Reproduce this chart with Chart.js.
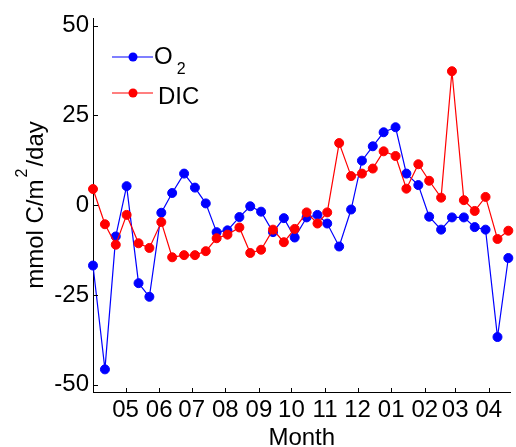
<!DOCTYPE html>
<html>
<head>
<meta charset="utf-8">
<script src="https://cdn.jsdelivr.net/npm/chart.js@4.4.1/dist/chart.umd.min.js"></script>
<style>
  html, body { margin: 0; padding: 0; background: #fff; overflow: hidden; }
  #wrap { width: 516px; height: 447px; position: relative; }
</style>
</head>
<body>
<div id="wrap"><canvas id="c" width="516" height="447"></canvas></div>
<script>
// Sample dates, in days counted from 1 April of the first year
const sampleDays = [0, 11, 21, 31, 42, 52, 63, 73, 84, 94, 104, 114, 124, 135, 145, 155, 166, 176, 186,
                    197, 207, 216, 227, 238, 248, 258, 268, 279, 289, 300, 310, 321, 331, 342, 352, 362, 373, 383];

// Air-sea fluxes, mmol C/m^2/day
const o2Flux = [-16.8, -45.7, -8.7, 5.3, -21.7, -25.5, -2.1, 3.4, 8.8, 4.9, 0.5, -7.5, -7.0, -3.3, -0.3, -1.8, -7.5, -3.6, -9.0,
                -3.4, -2.7, -5.1, -11.5, -1.2, 12.4, 16.4, 20.3, 21.7, 8.8, 5.6, -3.2, -6.8, -3.4, -3.4, -6.1, -6.8, -36.7, -14.7];
const dicFlux = [4.5, -5.3, -11.0, -2.7, -10.6, -11.9, -4.7, -14.5, -13.9, -13.9, -12.8, -9.2, -8.2, -6.2, -13.3, -12.4, -6.8, -10.3, -6.6,
                 -2.0, -5.1, -2.0, 17.3, 8.1, 8.8, 10.2, 15.0, 13.7, 4.6, 11.4, 6.8, 2.1, 37.3, 1.4, -1.6, 2.3, -9.4, -7.1];

// Month ticks (first day of each month) and their labels
const monthStarts = [30, 61, 91, 122, 153, 183, 214, 244, 275, 306, 334, 365];
const monthLabels = ['05', '06', '07', '08', '09', '10', '11', '12', '01', '02', '03', '04'];
const yTickValues = [-50, -25, 0, 25, 50];

// Legend names: main text plus subscript
const seriesNames = ['O', 'DIC'];
const seriesSubs = ['2', ''];

const FONT = '"Liberation Sans", Arial, Helvetica, sans-serif';
const BLUE = '#0000ff';
const RED = '#ff0000';

function toPoints(values) {
  return values.map((v, i) => ({ x: sampleDays[i], y: v }));
}

function seriesStyle(color, order) {
  return {
    borderColor: color,
    backgroundColor: color,
    pointBackgroundColor: color,
    pointBorderColor: color,
    pointRadius: 4.5,
    pointBorderWidth: 1,
    borderWidth: 1.2,
    tension: 0,
    clip: false,
    order: order
  };
}

// Inward tick marks, legend and axis titles
const decorations = {
  id: 'decorations',
  afterDraw(chart) {
    const ctx = chart.ctx;
    const area = chart.chartArea;
    const xs = chart.scales.x;
    const ys = chart.scales.y;
    ctx.save();
    ctx.strokeStyle = '#000';
    ctx.lineWidth = 1;
    ctx.beginPath();
    xs.ticks.forEach(t => {
      const px = Math.round(xs.getPixelForValue(t.value)) + 0.5;
      ctx.moveTo(px, area.bottom);
      ctx.lineTo(px, area.bottom - 4);
    });
    ys.ticks.forEach(t => {
      const py = Math.round(ys.getPixelForValue(t.value)) + 0.5;
      ctx.moveTo(area.left, py);
      ctx.lineTo(area.left + 5, py);
    });
    ctx.stroke();

    // Legend
    const rows = [
      { y: 57, tx: 154, base: 63.5 },
      { y: 93, tx: 158, base: 104 }
    ];
    chart.data.datasets.forEach((ds, i) => {
      const r = rows[i];
      ctx.strokeStyle = ds.borderColor;
      ctx.lineWidth = 1.2;
      ctx.beginPath();
      ctx.moveTo(112, r.y);
      ctx.lineTo(153, r.y);
      ctx.stroke();
      ctx.fillStyle = ds.borderColor;
      ctx.beginPath();
      ctx.arc(133, r.y, 4.5, 0, Math.PI * 2);
      ctx.fill();
      ctx.fillStyle = '#000';
      ctx.textAlign = 'left';
      ctx.textBaseline = 'alphabetic';
      ctx.font = '24px ' + FONT;
      ctx.fillText(seriesNames[i], r.tx, r.base);
      if (seriesSubs[i]) {
        const w = ctx.measureText(seriesNames[i]).width;
        ctx.font = '16px ' + FONT;
        ctx.fillText(seriesSubs[i], r.tx + w + 4, r.base + 10);
      }
    });

    // X title
    ctx.fillStyle = '#000';
    ctx.font = '24px ' + FONT;
    ctx.textAlign = 'center';
    ctx.textBaseline = 'alphabetic';
    ctx.fillText('Month', (area.left + area.right) / 2, 445);

    // Y title, rotated, with superscript
    const partA = 'mmol C/m';
    const partSup = '2';
    const partB = '/day';
    ctx.font = '24px ' + FONT;
    const wA = ctx.measureText(partA).width;
    const wB = ctx.measureText(partB).width;
    ctx.font = '16px ' + FONT;
    const wS = ctx.measureText(partSup).width;
    const gap = 2;
    const total = wA + gap + wS + gap + wB;
    const centerY = 205;
    ctx.translate(43, centerY);
    ctx.rotate(-Math.PI / 2);
    ctx.textAlign = 'left';
    let pos = -total / 2;
    ctx.font = '24px ' + FONT;
    ctx.fillText(partA, pos, 0);
    pos += wA + gap;
    ctx.font = '16px ' + FONT;
    ctx.fillText(partSup, pos, -16);
    pos += wS + gap;
    ctx.font = '24px ' + FONT;
    ctx.fillText(partB, pos, 0);
    ctx.restore();
  }
};

Chart.defaults.font.family = FONT;
Chart.defaults.color = '#000';

new Chart(document.getElementById('c'), {
  type: 'line',
  data: {
    datasets: [
      Object.assign({ label: 'O2', data: toPoints(o2Flux) }, seriesStyle(BLUE, 1)),
      Object.assign({ label: 'DIC', data: toPoints(dicFlux) }, seriesStyle(RED, 0))
    ]
  },
  options: {
    responsive: false,
    devicePixelRatio: 1,
    animation: false,
    layout: { padding: { top: 15, right: 0, bottom: 0, left: 0 } },
    plugins: { legend: { display: false }, tooltip: { enabled: false } },
    scales: {
      x: {
        type: 'linear',
        min: 0,
        max: 385,
        afterBuildTicks(scale) { scale.ticks = monthStarts.map(v => ({ value: v })); },
        afterFit(scale) { scale.height = 55; },
        ticks: {
          autoSkip: false,
          maxRotation: 0,
          padding: 4,
          font: { size: 24 },
          color: '#000',
          callback(value) {
            const k = monthStarts.indexOf(value);
            return k >= 0 ? monthLabels[k] : '';
          }
        },
        grid: { display: true, drawOnChartArea: false, drawTicks: false },
        border: { display: true, color: '#000', width: 1 }
      },
      y: {
        type: 'linear',
        min: -52,
        max: 52,
        afterBuildTicks(scale) { scale.ticks = yTickValues.map(v => ({ value: v })); },
        afterFit(scale) { scale.width = 93; },
        ticks: {
          padding: 4,
          font: { size: 24 },
          color: '#000'
        },
        grid: { display: true, drawOnChartArea: false, drawTicks: false },
        border: { display: true, color: '#000', width: 1 }
      }
    }
  },
  plugins: [decorations]
});
</script>
</body>
</html>
